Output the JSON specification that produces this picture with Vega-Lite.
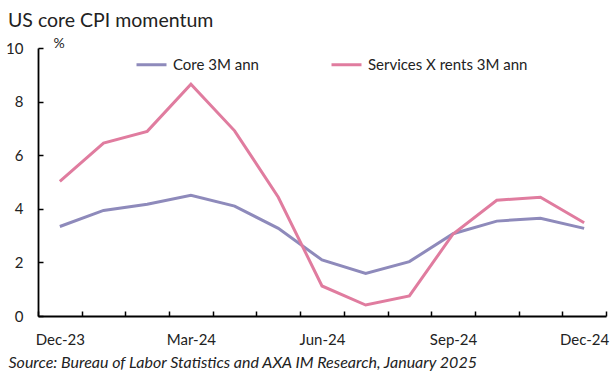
{
  "$schema": "https://vega.github.io/schema/vega-lite/v6.json",
  "width": 568,
  "height": 268,
  "autosize": {"type": "none"},
  "padding": {"left": 38, "top": 48, "right": 8, "bottom": 62},
  "background": "white",
  "config": {"font": "Lato", "view": {"stroke": null}},
  "title": {"text": "US core CPI momentum", "anchor": "start", "frame": "group", "dx": -30, "offset": 5, "fontSize": 19.5, "fontWeight": "normal", "color": "#222222", "font": "Lato"},
  "data": {"values": [
    {"month": "Dec-23", "series": "Core 3M ann", "value": 3.34},
    {"month": "Jan-24", "series": "Core 3M ann", "value": 3.94},
    {"month": "Feb-24", "series": "Core 3M ann", "value": 4.17},
    {"month": "Mar-24", "series": "Core 3M ann", "value": 4.5},
    {"month": "Apr-24", "series": "Core 3M ann", "value": 4.1},
    {"month": "May-24", "series": "Core 3M ann", "value": 3.27},
    {"month": "Jun-24", "series": "Core 3M ann", "value": 2.09},
    {"month": "Jul-24", "series": "Core 3M ann", "value": 1.59},
    {"month": "Aug-24", "series": "Core 3M ann", "value": 2.03},
    {"month": "Sep-24", "series": "Core 3M ann", "value": 3.07},
    {"month": "Oct-24", "series": "Core 3M ann", "value": 3.54},
    {"month": "Nov-24", "series": "Core 3M ann", "value": 3.65},
    {"month": "Dec-24", "series": "Core 3M ann", "value": 3.27},
    {"month": "Dec-23", "series": "Services X rents 3M ann", "value": 5.02},
    {"month": "Jan-24", "series": "Services X rents 3M ann", "value": 6.45},
    {"month": "Feb-24", "series": "Services X rents 3M ann", "value": 6.89},
    {"month": "Mar-24", "series": "Services X rents 3M ann", "value": 8.65},
    {"month": "Apr-24", "series": "Services X rents 3M ann", "value": 6.91},
    {"month": "May-24", "series": "Services X rents 3M ann", "value": 4.43},
    {"month": "Jun-24", "series": "Services X rents 3M ann", "value": 1.12},
    {"month": "Jul-24", "series": "Services X rents 3M ann", "value": 0.41},
    {"month": "Aug-24", "series": "Services X rents 3M ann", "value": 0.75},
    {"month": "Sep-24", "series": "Services X rents 3M ann", "value": 3.06},
    {"month": "Oct-24", "series": "Services X rents 3M ann", "value": 4.32},
    {"month": "Nov-24", "series": "Services X rents 3M ann", "value": 4.43},
    {"month": "Dec-24", "series": "Services X rents 3M ann", "value": 3.48}
  ]},
  "mark": {"type": "line", "strokeWidth": 3, "strokeJoin": "miter"},
  "encoding": {
    "x": {
      "field": "month", "type": "ordinal", "sort": null, "bandPosition": 0.5,
      "scale": {"type": "band", "paddingInner": 0, "paddingOuter": 0},
      "axis": {
        "title": "Source: Bureau of Labor Statistics and AXA IM Research, January 2025",
        "titleX": -30, "titleY": 51, "titleAlign": "left", "titleAnchor": "start", "titleBaseline": "alphabetic",
        "titleFontStyle": "italic", "titleFontWeight": "normal", "titleFontSize": 16, "titleColor": "#222222", "titleFont": "Lato",
        "tickBand": "extent", "tickSize": -5, "tickColor": "#000000", "tickWidth": 1.5,
        "domainColor": "#000000", "domainWidth": 1.8,
        "labelAngle": 0, "labelFontSize": 15, "labelColor": "#222222", "labelPadding": 21,
        "labelExpr": "indexof(['Dec-23','Mar-24','Jun-24','Sep-24','Dec-24'], datum.value) >= 0 ? datum.value : ''",
        "grid": false
      }
    },
    "y": {
      "field": "value", "type": "quantitative",
      "scale": {"domain": [0, 10], "nice": false},
      "axis": {
        "values": [0, 2, 4, 6, 8, 10],
        "title": "%", "titleAngle": 0, "titleX": 15, "titleY": -1, "titleAlign": "left", "titleBaseline": "alphabetic",
        "titleFontSize": 14, "titleFontWeight": "normal", "titleColor": "#222222",
        "tickSize": -5, "tickColor": "#000000", "tickWidth": 1.5,
        "domainColor": "#000000", "domainWidth": 1.8,
        "labelFontSize": 15, "labelColor": "#222222", "labelPadding": 20,
        "grid": false
      }
    },
    "color": {
      "field": "series", "type": "nominal",
      "scale": {"domain": ["Core 3M ann", "Services X rents 3M ann"], "range": ["#8E8ABB", "#E07C9F"]},
      "legend": {
        "title": null, "orient": "none", "legendX": 97, "legendY": 0, "direction": "horizontal",
        "columns": 2, "columnPadding": 66, "symbolType": "stroke", "symbolSize": 900, "symbolStrokeWidth": 3,
        "labelFontSize": 15, "labelColor": "#222222", "labelOffset": 5, "padding": 0
      }
    }
  }
}
